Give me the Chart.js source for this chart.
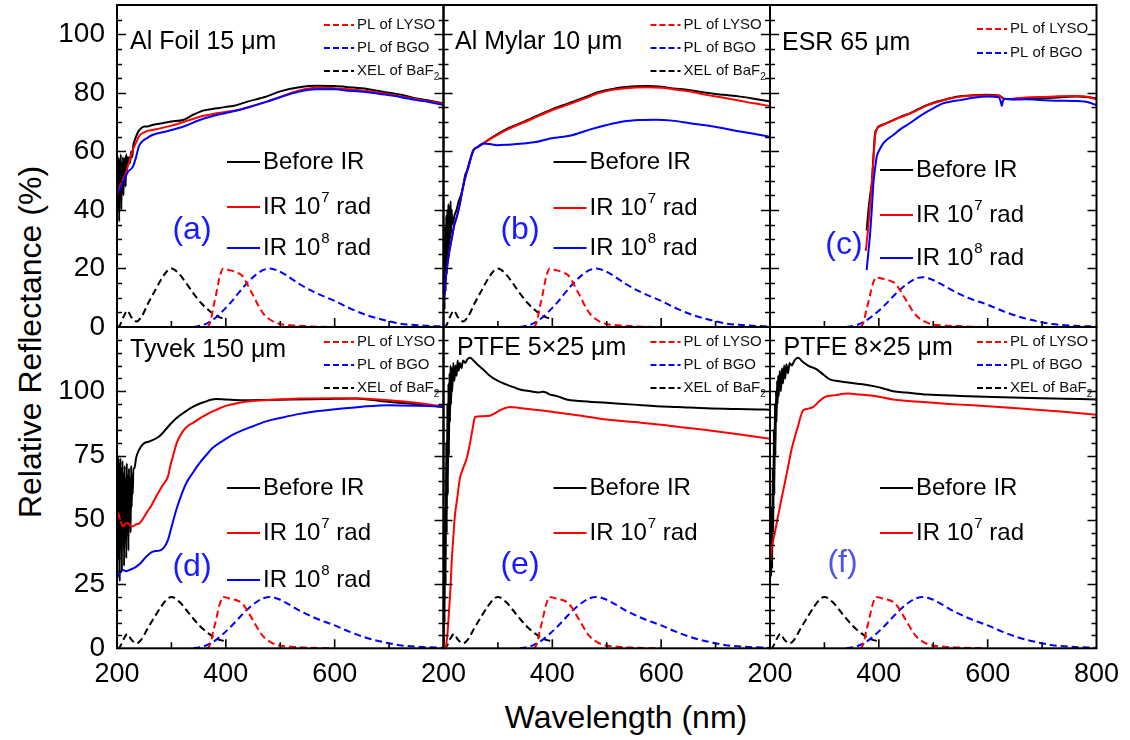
<!DOCTYPE html>
<html>
<head>
<meta charset="utf-8">
<script src="https://cdn.jsdelivr.net/npm/chart.js@4.4.1/dist/chart.umd.min.js"></script>
<style>
  html,body{margin:0;padding:0;background:#fff;}
  #wrap{position:relative;width:1130px;height:740px;overflow:hidden;background:#fff;}
  #wrap canvas{position:absolute;left:0;top:0;}
  .atitle{position:absolute;font-family:'Liberation Sans',Arial,Helvetica,sans-serif;font-size:32px;color:#000;white-space:nowrap;}
</style>
</head>
<body>
<div id="wrap">
  <div class="atitle" style="left:30px;top:342px;transform:translate(-50%,-50%) rotate(-90deg);">Relative Reflectance (%)</div>
  <div class="atitle" style="left:626px;top:717px;transform:translate(-50%,-50%);">Wavelength (nm)</div>
</div>
<script>
// ---------------- emission spectra (shared) ----------------
const wlXEL  = [200,205,212,219,226,236,245,257,270,282,293,300,315,327,340,355,368,380,390,398];
const xelBaF2 = [0,0.5,3.5,5.6,3.5,1.9,3.5,8,12.5,16.5,19.3,20,18,15,11.6,8.1,5.8,4.1,3.2,2.8];
const wlLYSO = [365,368,372,377,382,386,390,395,405,415,423,430,435,444,453,462,471,483,496,520,545,570,600];
const plLYSO = [0,0.3,2,6.8,11,14.9,18,20,19.5,19,18.4,17.5,16.1,13,9.8,6.5,4.1,2.3,1.2,0.6,0.3,0.1,0];
const plLYSO_c = [0,0.3,1.7,5.8,9.4,12.7,15.3,17,16.6,16.2,15.6,14.9,13.7,11,8.3,5.5,3.5,2,1,0.5,0.3,0.1,0];
const wlBGO  = [340,360,380,395,410,425,441,455,468,481,495,510,536,565,600,630,658,690,719,760,800];
const plBGO  = [0,0.8,3,5.6,8.6,12,15.4,17.8,19.4,20,19.3,17.8,14.6,11.7,8.9,6.2,4.1,2.4,1.2,0.5,0.2];
const plBGO_c = [0,0.7,2.6,4.8,7.3,10.2,13.1,15.1,16.5,17,16.4,15.1,12.4,9.9,7.6,5.3,3.5,2,1,0.4,0.2];

// ---------------- (a) Al Foil 15 um ----------------
const wlA_before = [200,201,202,203,204,205,206,207,208,209,210,211,212,213,214,215,216,217,218,219,220,222,224,226,228,230,233,236,240,245,250,256,265,280,300,321,340,360,383,400,413,440,474,500,535,566,600,627,660,688,720,750,775,800];
const rA_before  = [38,55,42,58,36,57,44,59,40,56,46,58,45,57,50,58,48,59,53,58,55,58,56,60,58,62,64,65.5,67,68,68.5,68.5,69,69.5,70.2,70.7,72.5,74,74.7,75.2,75.5,77,78.7,80.5,81.9,82.4,82.3,81.9,81.3,80.4,79.4,78.1,77.3,76.4];
const wlA_ir7 = [200,205,210,215,220,225,230,235,240,245,250,256,270,300,330,352,383,400,424,450,475,500,535,566,600,627,660,690,720,750,775,800];
const rA_ir7  = [45,48,50,52,55,58,61,63,65,66,66.5,67,67.5,68.8,70.5,71.8,73,73.5,74.1,75.5,77,78.6,80.8,81.7,81.6,81.2,80.6,79.8,78.8,77.8,77,76.2];
const wlA_ir8 = [200,205,210,215,220,229,235,240,247,254,265,290,321,352,383,400,430,474,500,535,566,600,627,660,688,720,750,775,800];
const rA_ir8  = [46,47,49,51,53,54.7,58,61.6,63.5,64.4,65.6,66.8,68.4,70.7,72.4,73.1,74.5,76.9,78.5,80.4,81.2,81.2,80.7,80.2,79.5,78.6,77.5,76.8,75.8];

// ---------------- (b) Al Mylar 10 um ----------------
const wlB_before = [200,201,202,203,204,205,206,207,208,209,210,211,212,213,214,215,216,218,220,224,228,232,236,240,245,249,255,263,273,291,320,347,370,396,420,438,460,487,510,530,573,600,622,650,683,715,745,770,800];
const rB_before  = [10,28,6,34,12,38,18,40,22,42,26,41,30,43,32,40,35,36,38,40,43,45,48,52,54,57,60.4,61.5,62.7,65,68,70.1,72,74.1,75.8,77,78.5,80.4,81.3,81.9,82.3,82.1,81.5,81,80,79.3,78.7,78,77];
const wlB_ir7 = [200,205,210,215,220,225,230,236,242,249,255,263,273,291,320,347,370,396,420,438,460,487,510,530,573,600,622,650,683,715,745,770,800];
const rB_ir7  = [8,18,25,30,35,38,42,47.9,52.5,57,60.4,61.5,62.7,64.8,67.7,69.8,71.7,73.8,75.4,76.6,78.1,80,81,81.5,81.9,81.7,81.2,80.5,79.3,78.3,77.3,76.4,75.5];
const wlB_ir8 = [200,205,210,215,220,225,230,236,242,249,255,263,273,285,298,320,347,370,396,420,438,470,500,530,561,590,620,653,685,714,745,770,800];
const rB_ir8  = [8,18,25,30,35,38,42,47.9,52.5,57,60.4,61.5,62.7,62.5,62.1,62.3,62.7,63.2,64.4,65,65.6,67.5,69,70.2,70.7,70.8,70.5,69.6,68.8,67.9,66.8,66,65];

// ---------------- (c) ESR 65 um ----------------
const wlC_before = [377.6,381,384,387,390,393,396,399,410,426.5,440,457,472,488,503,518,535,550,573.5,595,616.5,622,626,630,647,670,702,730,763.5,785,800];
const rC_before  = [33,40,45,49,58,66,67.5,68.4,69.3,70.7,71.8,73,74.4,75.8,76.8,77.5,78.3,78.8,79.2,79.3,79.2,79,78.5,78,77.8,78.1,78.2,78.4,78.7,78.5,78.1];
const wlC_ir7 = [376,380,384,387,390,393,396,399,410,426.5,440,457,472,488,503,518,535,550,573.5,595,616.5,622,626,630,647,670,702,730,763.5,785,800];
const rC_ir7  = [26,33,42,49,57,65,67.5,68.2,69.2,70.6,71.7,72.9,74.2,75.6,76.6,77.4,78.2,78.7,79.1,79.2,79.1,78.9,78.3,77.9,78,78.4,78.6,78.8,78.9,78.6,77.7];
const wlC_ir8 = [377.6,381,384,387,390,393,396,402,408,417,426.5,440,457,472,488,503,518,535,549,573.5,600,620,624,626,628,632,647,670,702,730,763.5,785,800];
const rC_ir8  = [19.4,26,31.9,40,49,54,58.1,60.8,62.7,64.3,65.6,67.6,69.6,71.6,73.5,75,76.4,77.1,77.5,78.3,78.7,78.5,77,75.5,77.2,78,77.7,77.8,77.5,77.3,77.2,76.8,75.8];

// ---------------- (d) Tyvek 150 um ----------------
const wlD_before = [200,201,202,203,204,205,206,207,208,209,210,211,212,213,214,215,216,217,218,219,220,221,222,223,224,225,226,227,228,229,230,232,235,240,248,260,278,295,309,325,340,360,382,400,430,470,520,580,640,688,720,760,800];
const rD_before  = [70,28,75,35,72,26,74,40,70,30,73,45,68,32,71,48,66,35,72,50,67,38,70,52,66,45,71,55,67,60,70,70,74,77,79.5,80.5,82.5,86.5,89.5,92,94,95.8,97,96.8,96.5,96.6,96.8,97,97.2,96.1,95.5,94.8,93.9];
const wlD_ir7 = [200,202,206,211,216,220,225,229,235,241.7,248,254,263,272,284.5,293.7,298,302.8,310,321,330,339.6,355,370,385,401,420,443.7,480,535.5,600,650,700,750,800];
const rD_ir7  = [50,52.6,50,47.4,48.5,48.7,47.8,47.4,48.2,48.7,50.5,52.6,55.5,59.1,63.6,66.9,71,74.7,80,84.4,86.5,87.7,89.8,91.6,93,94.4,95.3,96.1,96.6,97.2,97.3,97.2,96.5,95.5,94];
const wlD_ir8 = [200,202,206,211,217,223,229,235.6,245,254,266,281.5,293.7,300,309,318,327.5,340,352,364,376,395,413,430,449.8,474,500,535.5,570,600,650,700,750,800];
const rD_ir8  = [29,27.9,29.5,30.5,30,30.5,31,31.8,33.5,35.7,37.6,38.3,42.2,47,53.9,59.5,64.3,68.5,72.1,75.2,78,80.8,83.1,84.8,86.4,88.3,89.6,91.2,92.3,93,94,94.6,94.4,94];

// ---------------- (e) PTFE 5x25 um ----------------
const wlE_before = [200,201,202,203,204,205,206,207,208,209,210,211,212,213,214,215,216,218,220,222,224,226,228,230,233,236,240,244,248.7,255,262,273,285,300,316,330,340.5,360,375,382,389.6,395,410,426,450,500,550,591.7,630,683.5,740,790.7,800];
const rE_before  = [2,30,10,55,25,80,45,95,60,103,75,107,88,110,95,109,100,111,104,110,106,112,108,111,109,112,111,112.5,113,112,110.5,108.5,106,104,102.6,101.5,100.7,100,99.5,99.8,99.4,98.8,98,96.8,96.2,95.5,94.8,94.2,93.9,93.4,93.1,92.9,92.8];
const wlE_ir7 = [204,207,210,213,215,218,221,225,230,236,242.6,248,254.7,258,270,285.4,295,303.8,322,340,360,377,400,450,500,550,600,622,680,740,790.7,800];
const rE_ir7  = [0,5,14,24,33.5,43,51.7,58,66,70,73.8,79,86.8,90,90.3,90.5,91.5,92.6,93.9,93.5,93,92.6,92,90.6,89,88,87,86.4,85,83.3,81.8,81.5];

// ---------------- (f) PTFE 8x25 um ----------------
const wlF_before = [200,201,202,203,204,205,206,207,208,209,210,211,212,213,214,215,216,218,220,222,224,226,228,230,233,236,240,245,252,260,270,285.8,298,310,330,347,370,390,410,426.5,450,488,550,610,680,740,800];
const rF_before  = [25,40,28,55,31,70,45,85,60,95,75,100,88,104,95,106,98,108,100,109,103,110,105,110.5,107,111,110,112,113,111.5,110,108.5,106.5,104.6,103.8,103.3,102.7,102,101,100,99.5,98.7,98.2,97.8,97.4,97.1,96.8];
const wlF_ir7 = [200,203,209,215,221,227.6,234,240,246,252,256,261,270,279.5,290,301,320,344,365,393,426.5,480,549,600,671.6,740,800];
const rF_ir7  = [33,38.7,45,51.7,58,64.7,71.5,77.7,82.5,86.8,90,92.6,93.2,93.9,96,97.8,98.5,99.1,98.7,98.2,96.8,95.8,94.8,94.2,93.1,92,90.9];

// ---------------- tick labels ----------------
const xTickValues = [200,400,600,800];
const yTicksTop = [0,20,40,60,80,100];
const yTicksBottom = [0,25,50,75,100];

// ---------------- layout helpers ----------------
const FONT = "'Liberation Sans', Arial, Helvetica, sans-serif";
const PANEL_L = [117, 443.5, 770];
const PANEL_W = 326.5;
const ROW_T = [5, 327];
const ROW_H = [322, 321.3];
const Y_AXIS_W = 70;
const X_AXIS_H = 50;

function pts(xs, ys) { return xs.map((x, i) => ({x: x, y: ys[i]})); }
function solid(label, xs, ys, color) {
  return {label, data: pts(xs, ys), borderColor: color, borderWidth: 2, pointRadius: 0, fill: false, cubicInterpolationMode: 'monotone'};
}
function dashed(label, xs, ys, color) {
  return {label, data: pts(xs, ys), borderColor: color, borderWidth: 2, borderDash: [7, 4], pointRadius: 0, fill: false, cubicInterpolationMode: 'monotone'};
}
function zeroPad(s) { s.paddingTop = 0; s.paddingBottom = 0; s.paddingLeft = 0; s.paddingRight = 0; }

const decor = {
  id: 'decor',
  afterDatasetsDraw(chart, args, o) {
    const ctx = chart.ctx, a = chart.chartArea, xs = chart.scales.x, ys = chart.scales.y;
    ctx.save();
    ctx.strokeStyle = '#000'; ctx.lineWidth = 2; ctx.setLineDash([]);
    ctx.strokeRect(a.left, a.top, a.right - a.left, a.bottom - a.top);
    ctx.lineWidth = 1.6;
    ctx.beginPath();
    for (let v = 5; v < o.ymax; v += 5) {
      const y = Math.round(ys.getPixelForValue(v)) + 0.5;
      const len = (v % o.ymajor === 0) ? 9 : 5;
      ctx.moveTo(a.left, y); ctx.lineTo(a.left + len, y);
      ctx.moveTo(a.right, y); ctx.lineTo(a.right - len, y);
    }
    for (let v = 300; v < 800; v += 100) {
      const x = xs.getPixelForValue(v);
      const len = (v % 200 === 0) ? 9 : 6;
      ctx.moveTo(x, a.bottom); ctx.lineTo(x, a.bottom - len);
    }
    ctx.stroke();

    const L = a.left, T = a.top;
    ctx.textBaseline = 'middle'; ctx.textAlign = 'left';
    ctx.fillStyle = '#000';
    ctx.font = '25px ' + FONT;
    ctx.fillText(o.title, L + o.tx, T + o.ty);
    o.small.forEach((s, i) => {
      const y = T + o.smallY[i];
      ctx.strokeStyle = s.color; ctx.lineWidth = 2; ctx.setLineDash([6, 3]);
      ctx.beginPath(); ctx.moveTo(L + 207, y); ctx.lineTo(L + 237, y); ctx.stroke();
      ctx.setLineDash([]);
      ctx.fillStyle = '#111'; ctx.font = '15px ' + FONT;
      ctx.fillText(s.text, L + 240, y);
      if (s.sub) {
        const w = ctx.measureText(s.text).width;
        ctx.font = '10px ' + FONT;
        ctx.fillText(s.sub, L + 240 + w, y + 6);
      }
    });
    o.big.forEach((s, i) => {
      const y = T + o.bigY[i];
      ctx.strokeStyle = s.color; ctx.lineWidth = 2; ctx.setLineDash([]);
      ctx.beginPath(); ctx.moveTo(L + 110, y); ctx.lineTo(L + 143, y); ctx.stroke();
      ctx.fillStyle = '#000'; ctx.font = '24px ' + FONT;
      let x = L + 146;
      ctx.fillText(s.text, x, y);
      if (s.sup) {
        x += ctx.measureText(s.text).width;
        ctx.font = '15px ' + FONT;
        ctx.fillText(s.sup, x + 1, y - 9);
        x += ctx.measureText(s.sup).width + 1;
        ctx.font = '24px ' + FONT;
        ctx.fillText(s.after, x, y);
      }
    });
    ctx.fillStyle = o.tagColor; ctx.font = '32px ' + FONT; ctx.textAlign = 'center';
    ctx.fillText(o.tag, L + o.tagX, T + o.tagY);
    ctx.restore();
  }
};

const LEG_LYSO = {text: 'PL of LYSO', color: '#ff0000'};
const LEG_BGO  = {text: 'PL of BGO', color: '#0000ff'};
const LEG_XEL  = {text: 'XEL of BaF', sub: '2', color: '#000000'};
const LEG_B    = {text: 'Before IR', color: '#000000'};
const LEG_7    = {text: 'IR 10', sup: '7', after: ' rad', color: '#ff0000'};
const LEG_8    = {text: 'IR 10', sup: '8', after: ' rad', color: '#0000ff'};

function makePanel(col, row, datasets, deco) {
  const wrap = document.getElementById('wrap');
  const cv = document.createElement('canvas');
  cv.width = 1130; cv.height = 740;
  cv.style.width = '1130px'; cv.style.height = '740px';
  wrap.appendChild(cv);
  const left = PANEL_L[col], top = ROW_T[row], h = ROW_H[row];
  const ymax = row === 0 ? 110 : 125;
  const yTicks = row === 0 ? yTicksTop : yTicksBottom;
  const showY = col === 0, showX = row === 1, lastCol = col === 2;
  new Chart(cv, {
    type: 'line',
    data: {datasets},
    options: {
      responsive: false, animation: false, devicePixelRatio: 1,
      layout: {padding: {left: left - Y_AXIS_W, top: top, right: 1130 - left - PANEL_W, bottom: 740 - top - h - X_AXIS_H}},
      scales: {
        x: {
          type: 'linear', position: 'bottom', min: 200, max: 800,
          grid: {display: false, drawTicks: false}, border: {display: false},
          afterFit(s) { s.height = X_AXIS_H; zeroPad(s); },
          afterBuildTicks(s) { s.ticks = xTickValues.map(v => ({value: v})); },
          ticks: {
            display: showX, autoSkip: false, maxRotation: 0, minRotation: 0, padding: 10, color: '#000',
            font: {family: FONT, size: 27},
            callback: v => (v === 800 && !lastCol) ? '' : String(v)
          }
        },
        y: {
          type: 'linear', position: 'left', min: 0, max: ymax,
          grid: {display: false, drawTicks: false}, border: {display: false},
          afterFit(s) { s.width = Y_AXIS_W; zeroPad(s); },
          afterBuildTicks(s) { s.ticks = yTicks.map(v => ({value: v})); },
          ticks: {display: showY, autoSkip: false, padding: 12, color: '#000', font: {family: FONT, size: 28}}
        }
      },
      plugins: {legend: {display: false}, tooltip: {enabled: false}, decor: Object.assign({ymax, ymajor: row === 0 ? 20 : 25}, deco)}
    },
    plugins: [decor]
  });
}

// (a)
makePanel(0, 0, [
  solid('IR 10^8 rad', wlA_ir8, rA_ir8, '#0000ff'),
  solid('IR 10^7 rad', wlA_ir7, rA_ir7, '#ff0000'),
  solid('Before IR', wlA_before, rA_before, '#000000'),
  dashed('PL of LYSO', wlLYSO, plLYSO, '#ff0000'),
  dashed('PL of BGO', wlBGO, plBGO, '#0000ff'),
  dashed('XEL of BaF2', wlXEL, xelBaF2, '#000000')
], {title: 'Al Foil 15 \u03bcm', tx: 13, ty: 37, small: [LEG_LYSO, LEG_BGO, LEG_XEL], smallY: [20, 43, 66],
    big: [LEG_B, LEG_7, LEG_8], bigY: [157, 202, 243], tag: '(a)', tagX: 75, tagY: 225, tagColor: '#1a1aff'});

// (b)
makePanel(1, 0, [
  solid('IR 10^8 rad', wlB_ir8, rB_ir8, '#0000ff'),
  solid('IR 10^7 rad', wlB_ir7, rB_ir7, '#ff0000'),
  solid('Before IR', wlB_before, rB_before, '#000000'),
  dashed('PL of LYSO', wlLYSO, plLYSO, '#ff0000'),
  dashed('PL of BGO', wlBGO, plBGO, '#0000ff'),
  dashed('XEL of BaF2', wlXEL, xelBaF2, '#000000')
], {title: 'Al Mylar 10 \u03bcm', tx: 11.5, ty: 37, small: [LEG_LYSO, LEG_BGO, LEG_XEL], smallY: [20, 43, 66],
    big: [LEG_B, LEG_7, LEG_8], bigY: [157, 203, 243], tag: '(b)', tagX: 76.5, tagY: 225, tagColor: '#1a1aff'});

// (c)
makePanel(2, 0, [
  solid('IR 10^8 rad', wlC_ir8, rC_ir8, '#0000ff'),
  solid('IR 10^7 rad', wlC_ir7, rC_ir7, '#ff0000'),
  solid('Before IR', wlC_before, rC_before, '#000000'),
  dashed('PL of LYSO', wlLYSO, plLYSO_c, '#ff0000'),
  dashed('PL of BGO', wlBGO, plBGO_c, '#0000ff')
], {title: 'ESR 65 \u03bcm', tx: 12, ty: 38, small: [LEG_LYSO, LEG_BGO], smallY: [24, 48],
    big: [LEG_B, LEG_7, LEG_8], bigY: [165, 210, 253], tag: '(c)', tagX: 74, tagY: 240, tagColor: '#1a1aff'});

// (d)
makePanel(0, 1, [
  solid('IR 10^8 rad', wlD_ir8, rD_ir8, '#0000ff'),
  solid('IR 10^7 rad', wlD_ir7, rD_ir7, '#ff0000'),
  solid('Before IR', wlD_before, rD_before, '#000000'),
  dashed('PL of LYSO', wlLYSO, plLYSO, '#ff0000'),
  dashed('PL of BGO', wlBGO, plBGO, '#0000ff'),
  dashed('XEL of BaF2', wlXEL, xelBaF2, '#000000')
], {title: 'Tyvek 150 \u03bcm', tx: 13, ty: 23, small: [LEG_LYSO, LEG_BGO, LEG_XEL], smallY: [15, 38, 61],
    big: [LEG_B, LEG_7, LEG_8], bigY: [161, 206, 253], tag: '(d)', tagX: 75, tagY: 240, tagColor: '#1a1aff'});

// (e)
makePanel(1, 1, [
  solid('IR 10^7 rad', wlE_ir7, rE_ir7, '#ff0000'),
  solid('Before IR', wlE_before, rE_before, '#000000'),
  dashed('PL of LYSO', wlLYSO, plLYSO, '#ff0000'),
  dashed('PL of BGO', wlBGO, plBGO, '#0000ff'),
  dashed('XEL of BaF2', wlXEL, xelBaF2, '#000000')
], {title: 'PTFE 5\u00d725 \u03bcm', tx: 13.5, ty: 21, small: [LEG_LYSO, LEG_BGO, LEG_XEL], smallY: [15, 38, 61],
    big: [LEG_B, LEG_7], bigY: [161, 206], tag: '(e)', tagX: 76.5, tagY: 238, tagColor: '#1a1aff'});

// (f)
makePanel(2, 1, [
  solid('IR 10^7 rad', wlF_ir7, rF_ir7, '#ff0000'),
  solid('Before IR', wlF_before, rF_before, '#000000'),
  dashed('PL of LYSO', wlLYSO, plLYSO, '#ff0000'),
  dashed('PL of BGO', wlBGO, plBGO, '#0000ff'),
  dashed('XEL of BaF2', wlXEL, xelBaF2, '#000000')
], {title: 'PTFE 8\u00d725 \u03bcm', tx: 13.5, ty: 21, small: [LEG_LYSO, LEG_BGO, LEG_XEL], smallY: [15, 38, 61],
    big: [LEG_B, LEG_7], bigY: [161, 206], tag: '(f)', tagX: 72.5, tagY: 236, tagColor: '#4f56e6'});
</script>
</body>
</html>
